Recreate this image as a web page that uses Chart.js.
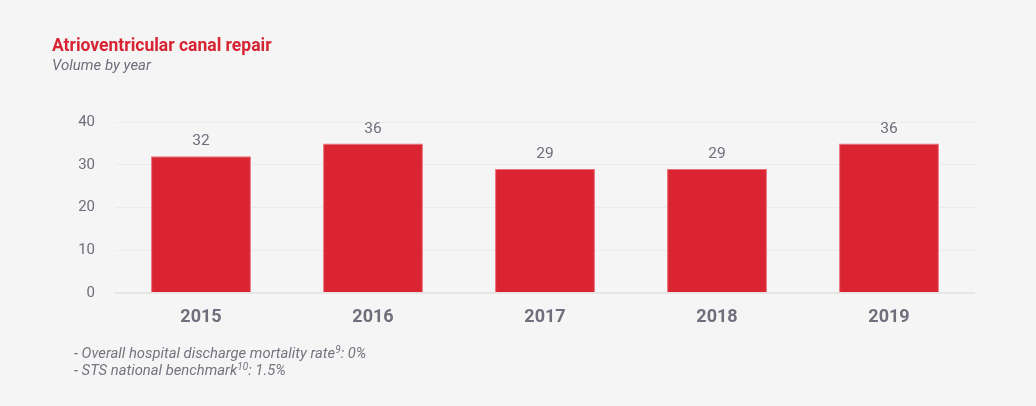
<!DOCTYPE html>
<html>
<head>
<meta charset="utf-8">
<script src="https://cdn.jsdelivr.net/npm/chart.js@4"></script>
<style>
  body { margin: 0; background: #f5f5f5; font-family: Roboto, sans-serif; }
  #wrap { position: relative; width: 1036px; height: 406px; overflow: hidden; }
  canvas { position: absolute; left: 0; top: 0; }
  .title { position: absolute; left: 52px; top: 35px; font-size: 17.5px; font-weight: bold; color: #d62433; }
  .sub { position: absolute; left: 52px; top: 56px; font-size: 15px; font-style: italic; color: #6e6e7c; }
  .notes { position: absolute; left: 74px; top: 345px; font-size: 14.8px; font-style: italic; color: #74747f; line-height: 17px; }
  .notes sup { font-size: 10px; line-height: 0; vertical-align: 5px; }
</style>
</head>
<body>
<div id="wrap">
  <canvas id="chart" width="1036" height="406"></canvas>
  <div class="title">Atrioventricular canal repair</div>
  <div class="sub">Volume by year</div>
  <div class="notes">
    - Overall hospital discharge mortality rate<sup>9</sup>: 0%<br>
    - STS national benchmark<sup>10</sup>: 1.5%
  </div>
</div>
<script>
const years = ["2015", "2016", "2017", "2018", "2019"];
const volumes = [32, 35, 29, 29, 35];
const volumeLabels = ["32", "36", "29", "29", "36"];
const yTicks = [0, 10, 20, 30, 40];

const textGrey = "#6e6e7c";

const barLabels = {
  id: "barLabels",
  afterDatasetsDraw(chart) {
    const ctx = chart.ctx;
    const meta = chart.getDatasetMeta(0);
    ctx.save();
    ctx.font = "15.5px Roboto";
    ctx.fillStyle = textGrey;
    ctx.textAlign = "center";
    ctx.textBaseline = "bottom";
    meta.data.forEach((bar, i) => {
      ctx.fillText(volumeLabels[i], bar.x, bar.y - 7);
    });
    ctx.restore();
  },
};

new Chart(document.getElementById("chart"), {
  type: "bar",
  data: {
    labels: years,
    datasets: [
      {
        data: volumes,
        backgroundColor: "#da2431",
        borderColor: "#e8717a",
        borderWidth: 1,
        barPercentage: 0.66,
        categoryPercentage: 0.88,
      },
    ],
  },
  options: {
    responsive: false,
    animation: false,
    layout: { padding: { top: 122, right: 61, bottom: 0, left: 0 } },
    plugins: {
      legend: { display: false },
      tooltip: { enabled: false },
    },
    scales: {
      x: {
        grid: { display: false },
        border: { display: false },
        ticks: {
          padding: 6,
          color: textGrey,
          font: { family: "Roboto", size: 18, weight: "bold" },
        },
        afterFit: (scale) => { scale.height = 113; },
      },
      y: {
        min: 0,
        max: 40,
        border: { display: false },
        grid: {
          drawTicks: false,
          color: (c) => (c.index === 0 ? "#e6e6e6" : "#ebebeb"),
          lineWidth: (c) => (c.index === 0 ? 2 : 1),
        },
        afterBuildTicks: (scale) => { scale.ticks = yTicks.map((v) => ({ value: v })); },
        ticks: {
          padding: 20,
          color: textGrey,
          font: { family: "Roboto", size: 15 },
        },
        afterFit: (scale) => { scale.width = 115; },
      },
    },
  },
  plugins: [barLabels],
});
</script>
</body>
</html>
